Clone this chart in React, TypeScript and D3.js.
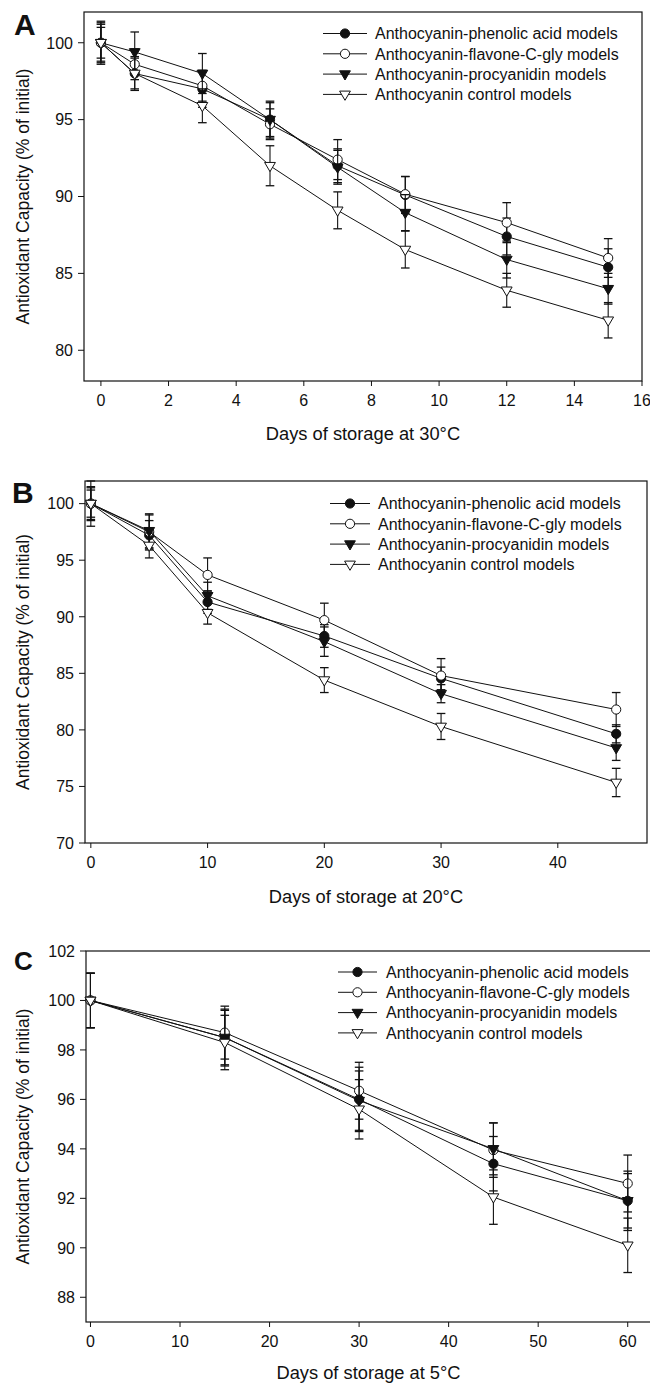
import React from 'react';
import * as d3 from 'd3';

// ---------- Data ----------
const seriesNames = [
  'Anthocyanin-phenolic acid models',
  'Anthocyanin-flavone-C-gly models',
  'Anthocyanin-procyanidin models',
  'Anthocyanin control models',
];

// Panel A (30 °C)
const daysA = [0, 1, 3, 5, 7, 9, 12, 15];
const phenolicA = [100, 98.0, 97.0, 95.0, 92.0, 90.1, 87.4, 85.4];
const flavoneA = [100, 98.6, 97.2, 94.7, 92.4, 90.15, 88.3, 86.0];
const procyanidinA = [100, 99.4, 98.0, 95.0, 91.9, 88.95, 85.9, 84.0];
const controlA = [100, 98.0, 95.9, 92.0, 89.1, 86.55, 83.9, 81.95];
const phenolicErrA = [1.3, 1.0, 1.2, 1.2, 1.1, 1.2, 1.2, 1.2];
const flavoneErrA = [1.4, 1.0, 1.0, 1.0, 1.3, 1.15, 1.3, 1.26];
const procyanidinErrA = [1.2, 1.3, 1.3, 1.1, 1.1, 1.17, 1.2, 1.0];
const controlErrA = [1.0, 1.1, 1.1, 1.3, 1.2, 1.2, 1.1, 1.15];
const xTicksA = [0, 2, 4, 6, 8, 10, 12, 14, 16];
const yTicksA = [80, 85, 90, 95, 100];

// Panel B (20 °C)
const daysB = [0, 5, 10, 20, 30, 45];
const phenolicB = [100, 97.2, 91.3, 88.3, 84.55, 79.65];
const flavoneB = [100, 97.5, 93.7, 89.7, 84.8, 81.8];
const procyanidinB = [100, 97.6, 91.85, 87.8, 83.2, 78.4];
const controlB = [100, 96.3, 90.35, 84.4, 80.3, 75.35];
const phenolicErrB = [1.4, 1.3, 1.0, 1.0, 1.0, 0.8];
const flavoneErrB = [1.5, 1.5, 1.5, 1.5, 1.5, 1.5];
const procyanidinErrB = [1.2, 1.5, 1.2, 1.3, 0.8, 1.1];
const controlErrB = [2.0, 1.1, 1.0, 1.1, 1.15, 1.25];
const xTicksB = [0, 10, 20, 30, 40];
const yTicksB = [70, 75, 80, 85, 90, 95, 100];

// Panel C (5 °C)
const daysC = [0, 15, 30, 45, 60];
const phenolicC = [100, 98.5, 96.0, 93.4, 91.9];
const flavoneC = [100, 98.7, 96.35, 93.95, 92.6];
const procyanidinC = [100, 98.5, 95.95, 94.0, 91.9];
const controlC = [100, 98.3, 95.6, 92.05, 90.1];
const phenolicErrC = [1.1, 1.1, 1.3, 1.1, 1.1];
const flavoneErrC = [1.1, 1.07, 1.15, 1.1, 1.15];
const procyanidinErrC = [1.1, 1.15, 1.2, 1.05, 1.2];
const controlErrC = [1.1, 1.1, 1.2, 1.1, 1.1];
const xTicksC = [0, 10, 20, 30, 40, 50, 60];
const yTicksC = [88, 90, 92, 94, 96, 98, 100, 102];

// ---------- Styles ----------
const FONT = '"Liberation Sans", Arial, Helvetica, sans-serif';
const INK = '#111';
const markerKinds = [
  { shape: 'circle', fill: INK },
  { shape: 'circle', fill: '#fff' },
  { shape: 'triangle', fill: INK },
  { shape: 'triangle', fill: '#fff' },
];

function Marker({ cx, cy, kind }: { cx: number; cy: number; kind: number }) {
  const k = markerKinds[kind];
  if (k.shape === 'circle') {
    return <circle cx={cx} cy={cy} r={4.6} fill={k.fill} stroke={INK} strokeWidth={1} />;
  }
  const p = `M${cx - 5.4},${cy - 3.3}L${cx + 5.4},${cy - 3.3}L${cx},${cy + 5.9}Z`;
  return <path d={p} fill={k.fill} stroke={INK} strokeWidth={1} strokeLinejoin="miter" />;
}

type PanelCfg = {
  letter: string;
  letterSize: number;
  letterX: number;
  letterY: number;
  left: number;
  right: number;
  top: number;
  bottom: number;
  xDomain: [number, number];
  yDomain: [number, number];
  xTicks: number[];
  yTicks: number[];
  days: number[];
  values: number[][];
  errors: number[][];
  xTitle: string;
  xTitleOffset: number;
  legendX: number;
  legendY: number;
  legendLineW: number;
  legendTextX: number;
};

function Panel({ cfg }: { cfg: PanelCfg }) {
  const x = d3.scaleLinear().domain(cfg.xDomain).range([cfg.left, cfg.right]);
  const y = d3.scaleLinear().domain(cfg.yDomain).range([cfg.bottom, cfg.top]);
  const line = d3
    .line<[number, number]>()
    .x((d) => x(d[0]))
    .y((d) => y(d[1]));
  const cap = 4.3;
  const midY = (cfg.top + cfg.bottom) / 2;
  const midX = (cfg.left + cfg.right) / 2;
  return (
    <g>
      {/* frame */}
      <rect
        x={cfg.left}
        y={cfg.top}
        width={cfg.right - cfg.left}
        height={cfg.bottom - cfg.top}
        fill="none"
        stroke={INK}
        strokeWidth={1.2}
      />
      {/* y ticks */}
      {cfg.yTicks.map((t) => (
        <g key={'y' + t}>
          <line x1={cfg.left - 6} x2={cfg.left} y1={y(t)} y2={y(t)} stroke={INK} strokeWidth={1} />
          <text
            x={cfg.left - 11}
            y={y(t)}
            dy="0.36em"
            textAnchor="end"
            fontSize={16}
            fontFamily={FONT}
            fill={INK}
          >
            {t}
          </text>
        </g>
      ))}
      {/* x ticks */}
      {cfg.xTicks.map((t) => (
        <g key={'x' + t}>
          <line x1={x(t)} x2={x(t)} y1={cfg.bottom} y2={cfg.bottom + 5} stroke={INK} strokeWidth={1} />
          <text
            x={x(t)}
            y={cfg.bottom + 25}
            textAnchor="middle"
            fontSize={16}
            fontFamily={FONT}
            fill={INK}
          >
            {t}
          </text>
        </g>
      ))}
      {/* titles */}
      <text
        x={midX}
        y={cfg.bottom + cfg.xTitleOffset}
        textAnchor="middle"
        fontSize={18.3}
        fontFamily={FONT}
        fill={INK}
      >
        {cfg.xTitle}
      </text>
      <text
        transform={`translate(22.5,${midY}) rotate(-90)`}
        textAnchor="middle"
        dy="0.35em"
        fontSize={17.5}
        fontFamily={FONT}
        fill={INK}
      >
        Antioxidant Capacity (% of initial)
      </text>
      <text
        x={cfg.letterX}
        y={cfg.letterY}
        fontSize={cfg.letterSize}
        fontWeight="bold"
        fontFamily={FONT}
        fill={INK}
      >
        {cfg.letter}
      </text>
      {/* series */}
      {cfg.values.map((vals, si) => {
        const pts: [number, number][] = cfg.days.map((d, i) => [d, vals[i]]);
        return (
          <g key={'s' + si}>
            <path d={line(pts) || ''} fill="none" stroke={INK} strokeWidth={1} />
            {pts.map((p, i) => {
              const e = cfg.errors[si][i];
              const px = x(p[0]);
              const y1 = y(p[1] + e);
              const y2 = y(p[1] - e);
              return (
                <g key={'e' + i}>
                  <line x1={px} x2={px} y1={y1} y2={y2} stroke={INK} strokeWidth={1.1} />
                  <line x1={px - cap} x2={px + cap} y1={y1} y2={y1} stroke={INK} strokeWidth={1.3} />
                  <line x1={px - cap} x2={px + cap} y1={y2} y2={y2} stroke={INK} strokeWidth={1.3} />
                </g>
              );
            })}
            {pts.map((p, i) => (
              <Marker key={'m' + i} cx={x(p[0])} cy={y(p[1])} kind={si} />
            ))}
          </g>
        );
      })}
      {/* legend */}
      {seriesNames.map((name, i) => {
        const ly = cfg.legendY + i * 20.3;
        const lx = cfg.legendX;
        return (
          <g key={'l' + i}>
            <line x1={lx} x2={lx + cfg.legendLineW} y1={ly} y2={ly} stroke={INK} strokeWidth={1} />
            <Marker cx={lx + cfg.legendLineW / 2} cy={ly} kind={i} />
            <text
              x={cfg.legendTextX}
              y={ly}
              dy="0.36em"
              fontSize={16}
              fontFamily={FONT}
              fill={INK}
            >
              {name}
            </text>
          </g>
        );
      })}
    </g>
  );
}

const panels: PanelCfg[] = [
  {
    letter: 'A',
    letterSize: 30,
    letterX: 14,
    letterY: 35,
    left: 84,
    right: 642,
    top: 12,
    bottom: 381,
    xDomain: [-0.5, 16],
    yDomain: [78, 102],
    xTicks: xTicksA,
    yTicks: yTicksA,
    days: daysA,
    values: [phenolicA, flavoneA, procyanidinA, controlA],
    errors: [phenolicErrA, flavoneErrA, procyanidinErrA, controlErrA],
    xTitle: 'Days of storage at 30°C',
    xTitleOffset: 58.5,
    legendX: 323,
    legendY: 33.5,
    legendLineW: 44,
    legendTextX: 375,
  },
  {
    letter: 'B',
    letterSize: 30,
    letterX: 12,
    letterY: 503,
    left: 85,
    right: 647,
    top: 481,
    bottom: 843,
    xDomain: [-0.5, 47.64],
    yDomain: [70, 102],
    xTicks: xTicksB,
    yTicks: yTicksB,
    days: daysB,
    values: [phenolicB, flavoneB, procyanidinB, controlB],
    errors: [phenolicErrB, flavoneErrB, procyanidinErrB, controlErrB],
    xTitle: 'Days of storage at 20°C',
    xTitleOffset: 60,
    legendX: 330,
    legendY: 503.5,
    legendLineW: 40,
    legendTextX: 378,
  },
  {
    letter: 'C',
    letterSize: 26,
    letterX: 14,
    letterY: 970,
    left: 86,
    right: 651,
    top: 951,
    bottom: 1322,
    xDomain: [-0.5, 62.6],
    yDomain: [87, 102],
    xTicks: xTicksC,
    yTicks: yTicksC,
    days: daysC,
    values: [phenolicC, flavoneC, procyanidinC, controlC],
    errors: [phenolicErrC, flavoneErrC, procyanidinErrC, controlErrC],
    xTitle: 'Days of storage at 5°C',
    xTitleOffset: 56.5,
    legendX: 338,
    legendY: 972,
    legendLineW: 39,
    legendTextX: 386,
  },
];

export default function App() {
  return (
    <svg
      width={650}
      height={1385}
      viewBox="0 0 650 1385"
      style={{ position: 'absolute', left: 0, top: 0, background: '#fff' }}
    >
      <rect x={0} y={0} width={650} height={1385} fill="#fff" />
      {panels.map((p) => (
        <Panel key={p.letter} cfg={p} />
      ))}
    </svg>
  );
}
